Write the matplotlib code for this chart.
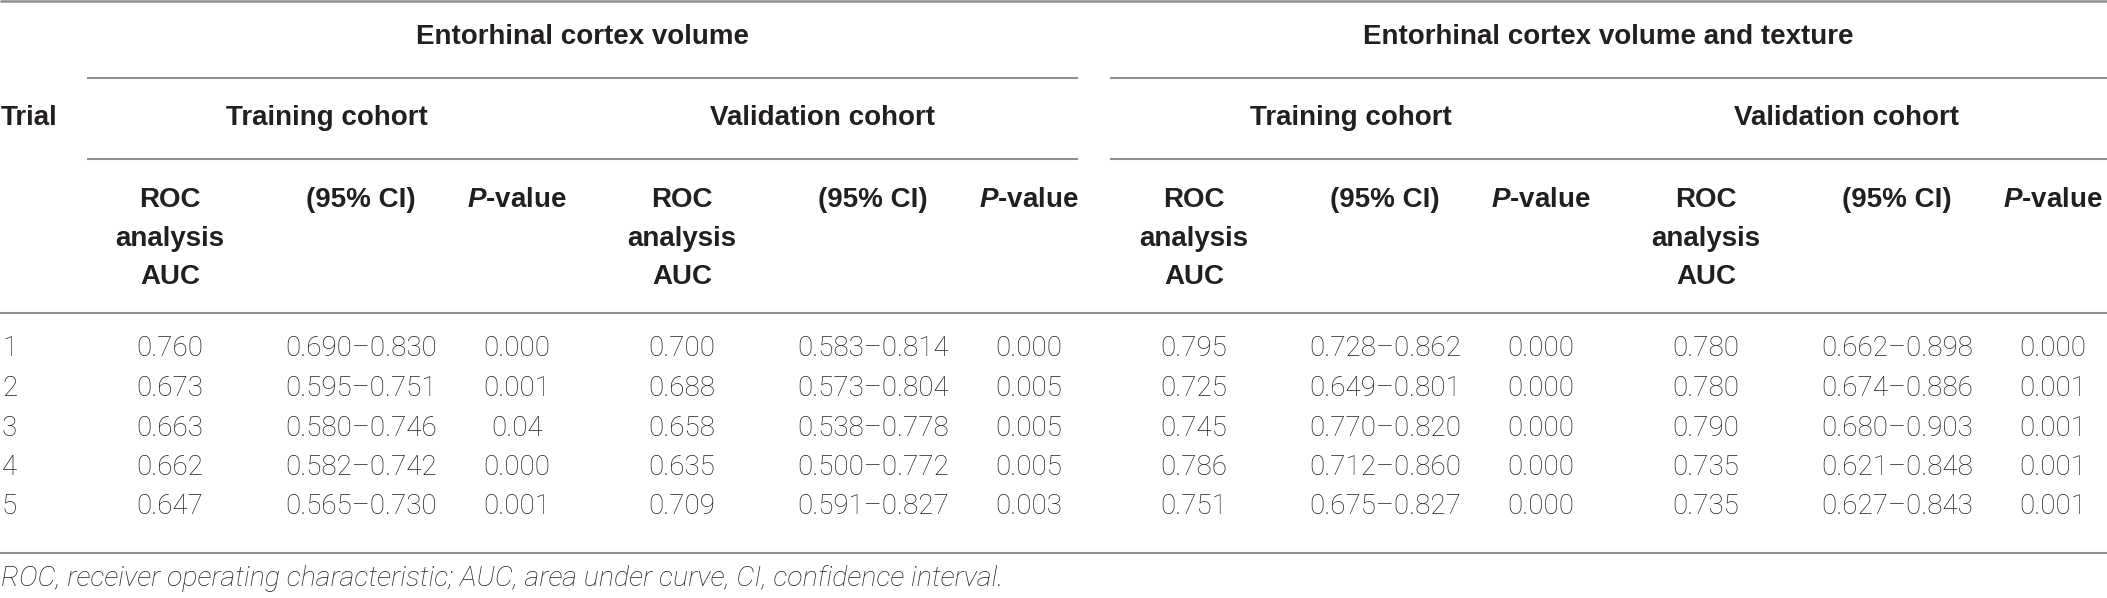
import matplotlib
matplotlib.use("Agg")
import matplotlib.pyplot as plt

# table values
trials = ["1", "2", "3", "4", "5"]

vol_train_auc = ["0.760", "0.673", "0.663", "0.662", "0.647"]
vol_train_ci = ["0.690–0.830", "0.595–0.751", "0.580–0.746", "0.582–0.742", "0.565–0.730"]
vol_train_p = ["0.000", "0.001", "0.04", "0.000", "0.001"]

vol_val_auc = ["0.700", "0.688", "0.658", "0.635", "0.709"]
vol_val_ci = ["0.583–0.814", "0.573–0.804", "0.538–0.778", "0.500–0.772", "0.591–0.827"]
vol_val_p = ["0.000", "0.005", "0.005", "0.005", "0.003"]

tex_train_auc = ["0.795", "0.725", "0.745", "0.786", "0.751"]
tex_train_ci = ["0.728–0.862", "0.649–0.801", "0.770–0.820", "0.712–0.860", "0.675–0.827"]
tex_train_p = ["0.000", "0.000", "0.000", "0.000", "0.000"]

tex_val_auc = ["0.780", "0.780", "0.790", "0.735", "0.735"]
tex_val_ci = ["0.662–0.898", "0.674–0.886", "0.680–0.903", "0.621–0.848", "0.627–0.843"]
tex_val_p = ["0.000", "0.001", "0.001", "0.001", "0.001"]

groups = ["Entorhinal cortex volume", "Entorhinal cortex volume and texture"]
cohorts = ["Training cohort", "Validation cohort"]
footnote = "ROC, receiver operating characteristic; AUC, area under curve, CI, confidence interval."

blocks = [
    (vol_train_auc, vol_train_ci, vol_train_p),
    (vol_val_auc, vol_val_ci, vol_val_p),
    (tex_train_auc, tex_train_ci, tex_train_p),
    (tex_val_auc, tex_val_ci, tex_val_p),
]

plt.rcParams["mathtext.fontset"] = "custom"
plt.rcParams["mathtext.it"] = "Liberation Sans:italic:bold"
plt.rcParams["mathtext.rm"] = "Liberation Sans:bold"

W, H = 2107, 598
fig = plt.figure(figsize=(W / 100, H / 100), dpi=100)
ax = fig.add_axes([0, 0, 1, 1])
ax.set_xlim(0, W)
ax.set_ylim(H, 0)
ax.axis("off")

TXT = "#231f20"
LINE = "#8f8f8f"
FS = 20
bold = dict(family="Liberation Sans", fontweight="bold", fontsize=FS, color=TXT)
light = dict(family="Roboto", fontweight="light", fontsize=FS, color=TXT)

# rules
def rule(y, x0, x1, lw=1.5):
    ax.plot([x0, x1], [y, y], color=LINE, lw=lw, solid_capstyle="butt")

rule(1, 0, W, lw=1.8)
for y in (78, 159):
    rule(y, 87, 1078)
    rule(y, 1110, W)
rule(313, 0, W)
rule(553, 0, W)

# header rows
group_x = [582, 1608]
for gx, g in zip(group_x, groups):
    ax.text(gx, 37, g, ha="center", va="center", **bold)

ax.text(1, 118, "Trial", ha="left", va="center", **bold)
cohort_x = [327, 823, 1351, 1847]
for i, cx in enumerate(cohort_x):
    ax.text(cx, 118, cohorts[i % 2], ha="center", va="center", **bold)

offsets = [0, 512, 1024, 1536]
col_auc, col_ci, col_p = 170, 361, 517
for off in offsets:
    for k, word in enumerate(["ROC", "analysis", "AUC"]):
        ax.text(col_auc + off, 200 + 38.5 * k, word, ha="center", va="center", **bold)
    ax.text(col_ci + off, 200, "(95% CI)", ha="center", va="center", **bold)
    ax.text(col_p + off, 200, r"$\mathit{P}$-value", ha="center", va="center", **bold)

# body
row_y = [349 + 39.5 * i for i in range(len(trials))]
for i, t in enumerate(trials):
    ax.text(2, row_y[i], t, ha="left", va="center", **light)
for off, (auc, ci, p) in zip(offsets, blocks):
    for i in range(len(trials)):
        ax.text(col_auc + off, row_y[i], auc[i], ha="center", va="center", **light)
        ax.text(col_ci + off, row_y[i], ci[i], ha="center", va="center", **light)
        ax.text(col_p + off, row_y[i], p[i], ha="center", va="center", **light)

ax.text(1, 579, footnote, ha="left", va="center", style="italic",
        family="Roboto", fontweight="light", fontsize=20.5, color=TXT)

fig.savefig("out.png", dpi=100)
